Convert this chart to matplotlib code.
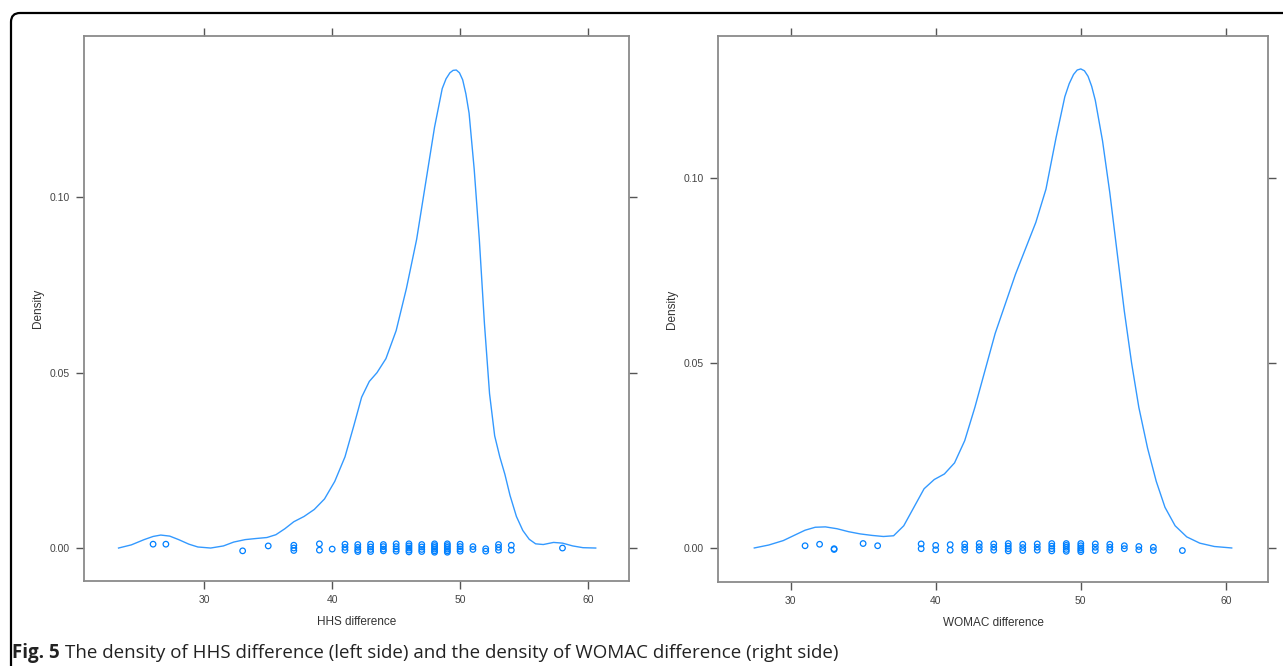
import matplotlib
matplotlib.use("Agg")
import matplotlib.pyplot as plt
from matplotlib.path import Path
from matplotlib.patches import PathPatch

# density curve of HHS difference
hhs_x = [23.3, 24.3, 25.3, 26.0, 26.6, 27.3, 28.0, 28.8, 29.5, 30.5, 31.5, 32.3,
         33.2, 34.0, 34.9, 35.6, 36.3, 37.0, 37.8, 38.6, 39.4, 40.2, 41.0, 41.7,
         42.3, 42.9, 43.5, 44.2, 45.0, 45.8, 46.6, 47.3, 48.0, 48.6, 48.9, 49.2,
         49.45, 49.7, 49.95, 50.2, 50.45, 50.7, 51.1, 51.5, 51.9, 52.3, 52.7, 53.1,
         53.5, 53.9, 54.4, 54.9, 55.4, 55.9, 56.5, 57.3, 58.0, 58.8, 59.6, 60.6]
hhs_y = [0.0, 0.0009, 0.0024, 0.0033, 0.0037, 0.0034, 0.0024, 0.0011, 0.0003, 0.0,
         0.0006, 0.0017, 0.0024, 0.0027, 0.0030, 0.0038, 0.0055, 0.0075, 0.0090, 0.0110,
         0.0140, 0.0190, 0.0260, 0.0350, 0.0430, 0.0475, 0.0500, 0.0540, 0.0620, 0.0740,
         0.0880, 0.1040, 0.1200, 0.1310, 0.1338, 0.1355, 0.1362, 0.1363, 0.1355, 0.1335,
         0.1295, 0.1240, 0.1080, 0.0880, 0.0640, 0.0440, 0.0320, 0.0260, 0.0210, 0.0150,
         0.0090, 0.0050, 0.0025, 0.0012, 0.0010, 0.0016, 0.0014, 0.0006, 0.0001, 0.0]

# observations (rug points, with the small vertical jitter seen in the picture)
hhs_pts_x = [26, 27, 33, 35, 37, 37, 37, 39, 39, 40,
             41, 41, 41, 42, 42, 42, 42, 43, 43, 43, 43,
             44, 44, 44, 44, 45, 45, 45, 45, 46, 46, 46, 46, 46,
             47, 47, 47, 47, 48, 48, 48, 48, 48, 48,
             49, 49, 49, 49, 49, 49, 50, 50, 50, 50,
             51, 51, 52, 52, 53, 53, 53, 54, 54, 58]
hhs_pts_y = [0.0011, 0.0011, -0.0008, 0.0006, 0.0008, 0.0000, -0.0007, 0.0012, -0.0006, -0.0003,
             0.0011, 0.0002, -0.0006, 0.0010, 0.0002, -0.0005, -0.0010, 0.0011, 0.0003, -0.0004, -0.0010,
             0.0010, 0.0004, -0.0003, -0.0008, 0.0012, 0.0004, -0.0003, -0.0009, 0.0012, 0.0006, 0.0000, -0.0006, -0.0011,
             0.0010, 0.0003, -0.0004, -0.0010, 0.0012, 0.0007, 0.0002, -0.0003, -0.0008, -0.0012,
             0.0012, 0.0007, 0.0002, -0.0003, -0.0008, -0.0012, 0.0011, 0.0004, -0.0003, -0.0009,
             0.0004, -0.0004, -0.0002, -0.0009, 0.0010, 0.0002, -0.0006, 0.0008, -0.0006, 0.0000]

# density curve of WOMAC difference
womac_x = [27.5, 28.5, 29.5, 30.3, 31.0, 31.7, 32.4, 33.2, 34.0, 34.8, 35.6, 36.4,
           37.1, 37.8, 38.5, 39.2, 39.9, 40.6, 41.3, 42.0, 42.7, 43.4, 44.1, 44.8,
           45.5, 46.2, 46.9, 47.6, 48.3, 48.9, 49.2, 49.5, 49.75, 50.0, 50.25, 50.5,
           50.75, 51.0, 51.5, 52.0, 52.5, 53.0, 53.5, 54.0, 54.6, 55.2, 55.8, 56.5,
           57.3, 58.2, 59.2, 60.4]
womac_y = [0.0, 0.0008, 0.0020, 0.0035, 0.0048, 0.0056, 0.0057, 0.0052, 0.0044, 0.0038,
           0.0034, 0.0031, 0.0033, 0.0060, 0.0110, 0.0160, 0.0185, 0.0200, 0.0230, 0.0290,
           0.0380, 0.0480, 0.0580, 0.0660, 0.0740, 0.0810, 0.0880, 0.0970, 0.1110, 0.1220,
           0.1255, 0.1280, 0.1292, 0.1295, 0.1290, 0.1275, 0.1248, 0.1210, 0.1100, 0.0960,
           0.0800, 0.0640, 0.0500, 0.0380, 0.0270, 0.0180, 0.0110, 0.0060, 0.0030, 0.0013,
           0.0004, 0.0]

womac_pts_x = [31, 32, 33, 33, 35, 36,
               39, 39, 40, 40, 41, 41, 42, 42, 42, 43, 43, 43, 44, 44, 44,
               45, 45, 45, 45, 46, 46, 46, 47, 47, 47, 48, 48, 48, 48,
               49, 49, 49, 49, 49, 50, 50, 50, 50, 50, 51, 51, 51,
               52, 52, 52, 53, 53, 54, 54, 55, 55, 57]
womac_pts_y = [0.0006, 0.0010, -0.0002, -0.0004, 0.0012, 0.0006,
               0.0011, -0.0002, 0.0007, -0.0005, 0.0009, -0.0006, 0.0011, 0.0002, -0.0006, 0.0012, 0.0003, -0.0006, 0.0011, 0.0002, -0.0006,
               0.0012, 0.0005, -0.0002, -0.0008, 0.0010, 0.0001, -0.0007, 0.0011, 0.0002, -0.0006, 0.0012, 0.0005, -0.0002, -0.0008,
               0.0012, 0.0007, 0.0002, -0.0004, -0.0009, 0.0012, 0.0006, 0.0000, -0.0005, -0.0010, 0.0011, 0.0002, -0.0007,
               0.0010, 0.0002, -0.0006, 0.0006, -0.0002, 0.0004, -0.0005, 0.0002, -0.0007, -0.0007]

ticks_x = [30, 40, 50, 60]
ticks_y = [0.00, 0.05, 0.10]
tick_labels_y = ["0.00", "0.05", "0.10"]

blue = "#0080ff"
frame_col = "#8a8a8a"
text_col = "#333333"

plt.rcParams["font.family"] = ["Liberation Sans", "DejaVu Sans"]

W, H = 1283, 666
fig = plt.figure(figsize=(W / 100, H / 100), dpi=100)
fig.patch.set_facecolor("white")


def box(x0, y0, x1, y1):
    # pixel box (from top-left) -> figure fraction rect
    return [x0 / W, 1 - y1 / H, (x1 - x0) / W, (y1 - y0) / H]


ax1 = fig.add_axes(box(84, 36, 629, 581))
ax2 = fig.add_axes(box(718, 36, 1268, 582))


def style(ax, xlim, ylim, xlabel):
    ax.set_xlim(*xlim)
    ax.set_ylim(*ylim)
    ax.set_xticks(ticks_x)
    ax.set_yticks(ticks_y)
    ax.set_yticklabels(tick_labels_y)
    for s in ax.spines.values():
        s.set_color(frame_col)
        s.set_linewidth(1.3)
    ax.tick_params(axis="both", direction="out", length=6, width=1, color="#555555",
                   labelsize=7.5, labelcolor="#444444", pad=4,
                   top=True, right=True, labeltop=False, labelright=False)
    ax.set_xlabel(xlabel, fontsize=8.5, color=text_col, labelpad=8)
    ax.set_ylabel("Density", fontsize=8.5, color=text_col, labelpad=4)


# left: HHS
ax1.plot(hhs_x, hhs_y, color=blue, lw=1.0, alpha=0.8)
ax1.scatter(hhs_pts_x, hhs_pts_y, s=16, facecolors="none", edgecolors=blue, linewidths=0.9)
style(ax1, (20.6, 63.2), (-0.0094, 0.146), "HHS difference")

# right: WOMAC
ax2.plot(womac_x, womac_y, color=blue, lw=1.0, alpha=0.8)
ax2.scatter(womac_pts_x, womac_pts_y, s=16, facecolors="none", edgecolors=blue, linewidths=0.9)
style(ax2, (25.0, 62.9), (-0.0092, 0.1384), "WOMAC difference")

# outer rounded frame (open at the right and bottom)
over = fig.add_axes([0, 0, 1, 1], zorder=-1)
over.set_xlim(0, W)
over.set_ylim(H, 0)
over.axis("off")
r = 9
verts = [(11, H + 5), (11, 13 + r), (11, 13), (11 + r, 13), (W + 5, 13)]
codes = [Path.MOVETO, Path.LINETO, Path.CURVE3, Path.CURVE3, Path.LINETO]
over.add_patch(PathPatch(Path(verts, codes), fill=False, lw=1.6, color="black"))

# caption
cap_font = ["Open Sans", "DejaVu Sans"]
t1 = fig.text(12 / W, 1 - 653 / H, "Fig. 5", fontsize=13.5, fontweight="bold",
              family=cap_font, va="center", ha="left", color="#222222")
fig.canvas.draw()
bb = t1.get_window_extent()
fig.text((bb.x1 + 5) / W, 1 - 653 / H,
         "The density of HHS difference (left side) and the density of WOMAC difference (right side)",
         fontsize=13.5, family=cap_font, va="center", ha="left", color="#222222")

fig.savefig("out.png", dpi=100)
